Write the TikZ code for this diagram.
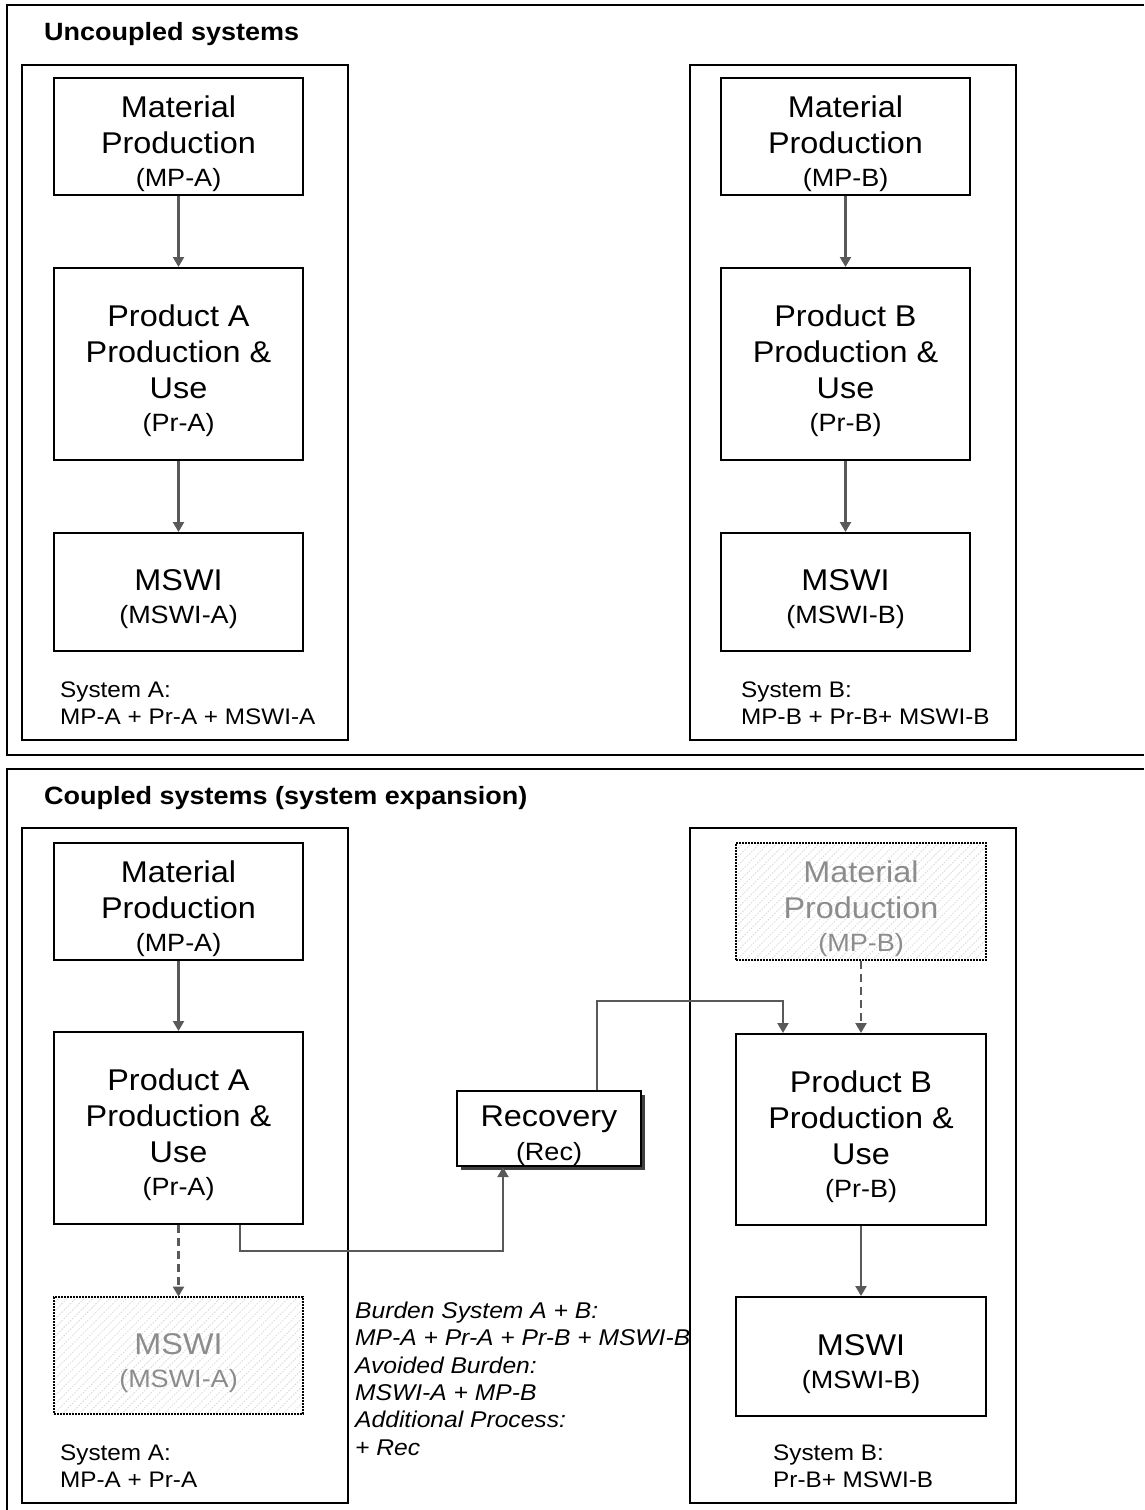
\documentclass[tikz,border=0pt]{standalone}
\usepackage{fontspec}
\setmainfont{Liberation Sans}[FakeStretch=1.08]
\usetikzlibrary{arrows.meta,patterns.meta,shadows,calc}

\newcommand\boxfont{\fontsize{30}{36}\selectfont}
\newcommand\tagfont{\fontsize{25}{36}\selectfont}
\newcommand\notefont{\fontsize{22.5}{27}\selectfont}
\newcommand\headfont{\fontsize{25}{30}\selectfont\bfseries}
\newcommand\topstrut{\rule{0pt}{36pt}}

\definecolor{arrowgray}{HTML}{595959}
\definecolor{ghosttext}{HTML}{8C8C8C}

\tikzset{
  procbox/.style={draw=black, line width=2pt, fill=white, align=center,
    inner sep=0pt, minimum width=249pt, font=\boxfont},
  ghostbox/.style={draw=black, line width=1.6pt, dash pattern=on 1.6pt off 1.4pt,
    pattern={Lines[angle=45,distance=6pt,line width=0.8pt]}, pattern color=black!15,
    text=ghosttext, align=center, inner sep=0pt, minimum width=249pt, font=\boxfont},
  frame/.style={draw=black, line width=1.5pt},
  outer/.style={draw=black, line width=1.8pt},
  arr/.style={draw=arrowgray, line width=2.2pt, -{Triangle[length=10pt,width=11pt]}},
  dasharr/.style={arr, dash pattern=on 8pt off 5pt},
  note/.style={anchor=north west, inner sep=0pt, align=left, font=\notefont},
  head/.style={anchor=base west, inner sep=0pt, font=\headfont},
}

\begin{document}
\begin{tikzpicture}[x=1pt,y=-1pt]
\useasboundingbox (0,0) rectangle (1144,1510);

% ---------- outer panels ----------
\draw[outer] (1144,5) -- (7,5) -- (7,755) -- (1144,755);
\draw[outer] (1144,769) -- (7,769) -- (7,1510);

\node[head] (titleU) at (44,40.5) {Uncoupled systems};
\node[head] (titleC) at (44,804) {Coupled systems (system expansion)};

% ---------- uncoupled: system frames ----------
\draw[frame] (22,65) rectangle (348,740);
\draw[frame] (690,65) rectangle (1016,740);

% system A
\node[procbox, minimum height=117pt] (mpa1) at (178.5,136.5)
  {\topstrut Material\\Production\\[-3pt]\tagfont(MP-A)};
\node[procbox, minimum height=192pt] (pra1) at (178.5,364)
  {\topstrut Product A\\Production \&\\Use\\[-3pt]\tagfont(Pr-A)};
\node[procbox, minimum height=118pt] (mswia1) at (178.5,592)
  {\topstrut MSWI\\[-3pt]\tagfont(MSWI-A)};
\draw[arr] (mpa1) -- (pra1);
\draw[arr] (pra1) -- (mswia1);
\node[note] (sysA1) at (60,682) {System A:\\MP-A + Pr-A + MSWI-A};

% system B
\node[procbox, minimum height=117pt] (mpb1) at (845.5,136.5)
  {\topstrut Material\\Production\\[-3pt]\tagfont(MP-B)};
\node[procbox, minimum height=192pt] (prb1) at (845.5,364)
  {\topstrut Product B\\Production \&\\Use\\[-3pt]\tagfont(Pr-B)};
\node[procbox, minimum height=118pt] (mswib1) at (845.5,592)
  {\topstrut MSWI\\[-3pt]\tagfont(MSWI-B)};
\draw[arr] (mpb1) -- (prb1);
\draw[arr] (prb1) -- (mswib1);
\node[note] (sysB1) at (741,682) {System B:\\MP-B + Pr-B+ MSWI-B};

% ---------- coupled: system frames ----------
\draw[frame] (22,828) rectangle (348,1503);
\draw[frame] (690,828) rectangle (1016,1503);

% system A
\node[procbox, minimum height=117pt] (mpa2) at (178.5,901.5)
  {\topstrut Material\\Production\\[-3pt]\tagfont(MP-A)};
\node[procbox, minimum height=192pt] (pra2) at (178.5,1128)
  {\topstrut Product A\\Production \&\\Use\\[-3pt]\tagfont(Pr-A)};
\node[ghostbox, minimum height=117pt] (mswia2) at (178.5,1355.5)
  {\topstrut MSWI\\[-3pt]\tagfont(MSWI-A)};
\draw[arr] (mpa2) -- (pra2);
\draw[dasharr] (pra2) -- (mswia2);
\node[note] (sysA2) at (60,1445) {System A:\\MP-A + Pr-A};

% system B
\node[ghostbox, minimum width=250pt, minimum height=117pt] (mpb2) at (861,901.5)
  {\topstrut Material\\Production\\[-3pt]\tagfont(MP-B)};
\node[procbox, minimum width=250pt, minimum height=191pt] (prb2) at (861,1129.5)
  {\topstrut Product B\\Production \&\\Use\\[-3pt]\tagfont(Pr-B)};
\node[procbox, minimum width=250pt, minimum height=119pt] (mswib2) at (861,1356.5)
  {\topstrut MSWI\\[-3pt]\tagfont(MSWI-B)};
\draw[dasharr] (mpb2) -- (prb2);
\draw[arr] (prb2) -- (mswib2);
\node[note] (sysB2) at (773,1445) {System B:\\Pr-B+ MSWI-B};

% recovery process linking the two systems
\node[procbox, minimum width=184pt, minimum height=73pt,
  drop shadow={shadow xshift=4pt, shadow yshift=-4pt, fill=black!75, opacity=1}]
  (rec) at (549,1128.5) {\topstrut Recovery\\[-2pt]\tagfont(Rec)};
\draw[arr] ([xshift=61.5pt]pra2.south) -- ++(0,26) -| ([xshift=-46pt]rec.south);
\draw[arr] ([xshift=48pt]rec.north) -- ++(0,-89) -| ([xshift=-78pt]prb2.north);

% burden summary
\node[note, font=\fontsize{22.8}{27.4}\selectfont\itshape] (burden) at (355,1301.5)
  {Burden System A + B:\\MP-A + Pr-A + Pr-B + MSWI-B\\Avoided Burden:\\MSWI-A + MP-B\\Additional Process:\\+ Rec};
\end{tikzpicture}
\end{document}
